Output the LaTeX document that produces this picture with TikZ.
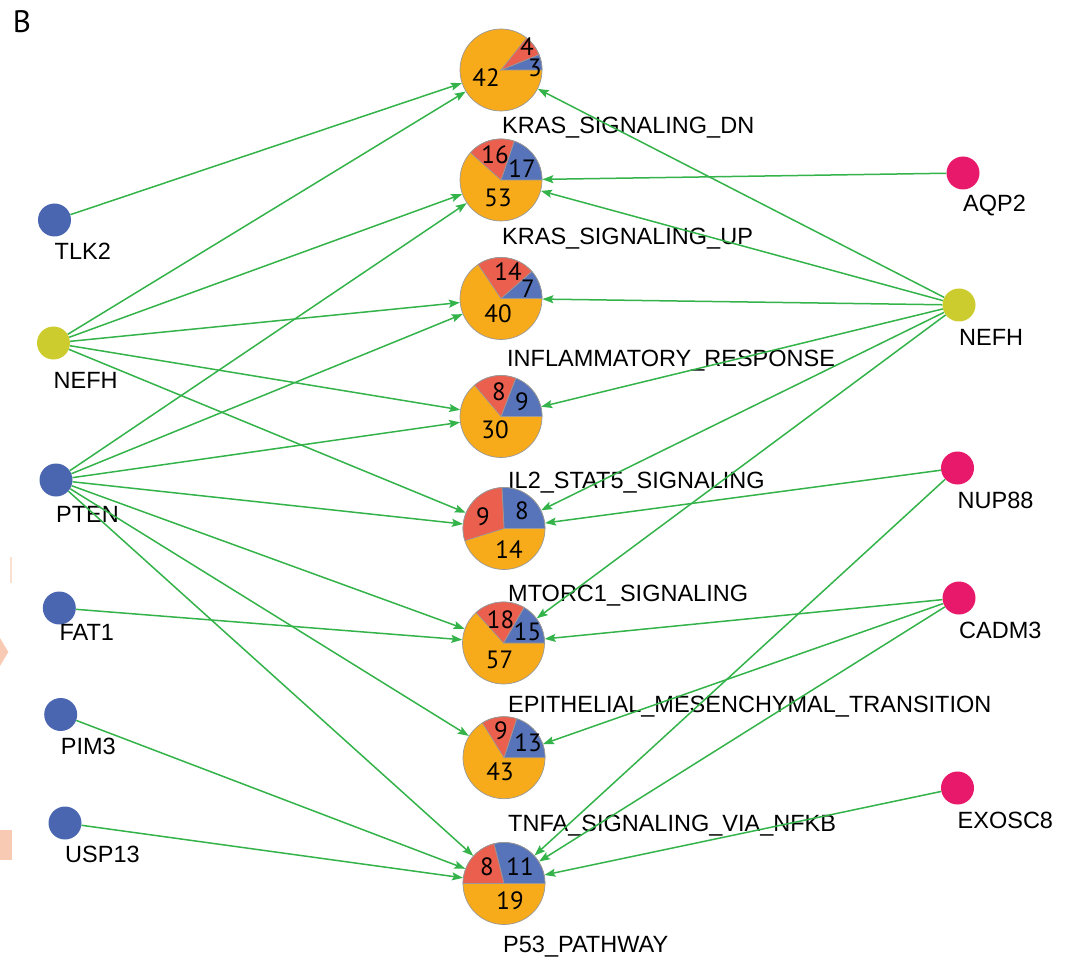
\documentclass[tikz,border=0pt]{standalone}
\usepackage{fontspec}
\setmainfont{Liberation Sans}
\newfontfamily\piefont{PT Sans}
\usetikzlibrary{arrows.meta}
\definecolor{geneblue}{HTML}{4A66B0}
\definecolor{geneyellow}{HTML}{CCCC2E}
\definecolor{genered}{HTML}{E8196A}
\definecolor{pieblue}{HTML}{5773B9}
\definecolor{piered}{HTML}{EB5F4F}
\definecolor{pieorange}{HTML}{F8AB1A}
\definecolor{edgegreen}{HTML}{33B349}
\definecolor{cropsalmon}{HTML}{F9CAB3}

\begin{document}
\begin{tikzpicture}[
    x=1pt, y=-1pt,
    >={Stealth[length=11pt,width=8pt,inset=2pt]},
    gene/.style={circle, minimum size=33pt, inner sep=0pt, fill=#1},
    glabel/.style={anchor=west, inner sep=0pt, font=\fontsize{23.5}{28}\selectfont},
    pie/.style={circle, minimum size=82pt, inner sep=0pt, fill=pieorange, draw=gray!80, line width=0.7pt},
    plabel/.style={anchor=north west, inner sep=0pt, font=\fontsize{23.5}{28}\selectfont},
    pienum/.style={inner sep=0pt, font=\piefont\fontsize{25}{27}\selectfont},
    slice/.style={draw=gray!80, line width=0.7pt},
    link/.style={->, edgegreen, line width=1.5pt}
]
    \useasboundingbox (0,0) rectangle (1070,957);

    % pieces of the neighbouring panel
    \fill[cropsalmon!60] (10,557) rectangle (12,583);
    \fill[cropsalmon] (0,638) -- (8.3,652) -- (0,666) -- cycle;
    \fill[cropsalmon] (0,830) rectangle (12.3,860);

    \node[font=\piefont\fontsize{31}{33}\selectfont, inner sep=0pt] (panel) at (22,22) {B};

    \foreach \n/\x/\y/\ly/\c/\t in {tlk/54.5/220/251/geneblue/TLK2, nefhl/53.5/343/380/geneyellow/NEFH,
        pten/56/480/514/geneblue/PTEN, fat/59.3/608/632/geneblue/FAT1, pim/60.7/714.5/746/geneblue/PIM3,
        usp/65/823/854/geneblue/USP13, aqp/963/173/206/genered/AQP2, nefhr/959/305/337/geneyellow/NEFH,
        nup/957.5/468/500/genered/NUP88, cadm/959/598/630/genered/CADM3, exo/957.5/788/820/genered/EXOSC8}{
        \node[gene=\c] (\n) at (\x,\y) {};
        \node[glabel] (\n-l) at (\x,\ly) {\t};
    }

    \foreach \p/\x/\y/\b/\r/\o/\lx/\ly/\t in {
        dn/501/70/3/4/42/502/116.7/KRAS\_SIGNALING\_DN,
        up/501/180/17/16/53/502/228/KRAS\_SIGNALING\_UP,
        inf/501/298.5/7/14/40/507/350/INFLAMMATORY\_RESPONSE,
        il/501/416.5/9/8/30/508/471.7/IL2\_STAT5\_SIGNALING,
        mt/504/528.5/8/9/14/508/585/MTORC1\_SIGNALING,
        emt/503.5/643/15/18/57/508/696/EPITHELIAL\_MESENCHYMAL\_TRANSITION,
        tnf/504/757.7/13/9/43/508/815/TNFA\_SIGNALING\_VIA\_NFKB,
        p53/504/883.5/11/8/19/503/936/P53\_PATHWAY}{
        \node[pie] (\p) at (\x,\y) {};
        \pgfmathsetmacro\ab{360*\b/(\b+\r+\o)}
        \pgfmathsetmacro\ar{360*(\b+\r)/(\b+\r+\o)}
        \filldraw[slice, fill=pieblue] (\p.center) -- ++(0:41) arc[start angle=0, end angle=-\ab, radius=41] -- cycle;
        \filldraw[slice, fill=piered] (\p.center) -- ++(-\ab:41) arc[start angle=-\ab, end angle=-\ar, radius=41] -- cycle;
        \node[plabel] (\p-l) at (\lx,\ly) {\t};
    }

    \foreach \p/\dx/\dy/\v in {dn/26/-23/4, dn/34/-2/3, dn/-15/8/42,
        up/-6/-25/16, up/21/-11/17, up/-3/18/53,
        inf/7/-27/14, inf/27/-10/7, inf/-3/15/40,
        il/-2/-25/8, il/21/-15/9, il/-6/13/30,
        mt/-21/-12/9, mt/18/-18/8, mt/5/21/14,
        emt/-3/-23/18, emt/24/-11/15, emt/-4/17/57,
        tnf/-3/-27/9, tnf/24/-15/13, tnf/-4/14/43,
        p53/-17/-17/8, p53/16/-17/11, p53/6/17/19}
        \node[pienum] (\p-n\v) at ([shift={(\dx,\dy)}]\p.center) {\v};

    \foreach \s/\e in {tlk/dn, nefhl/dn, nefhl/up, nefhl/inf, nefhl/il, nefhl/mt,
        pten/up, pten/inf, pten/il, pten/mt, pten/emt, pten/tnf, pten/p53,
        fat/emt, pim/p53, usp/p53, aqp/up,
        nefhr/dn, nefhr/up, nefhr/inf, nefhr/il, nefhr/mt, nefhr/emt,
        nup/mt, nup/p53, cadm/emt, cadm/tnf, cadm/p53, exo/p53}
        \draw[link] (\s) -- (\e);
\end{tikzpicture}
\end{document}
